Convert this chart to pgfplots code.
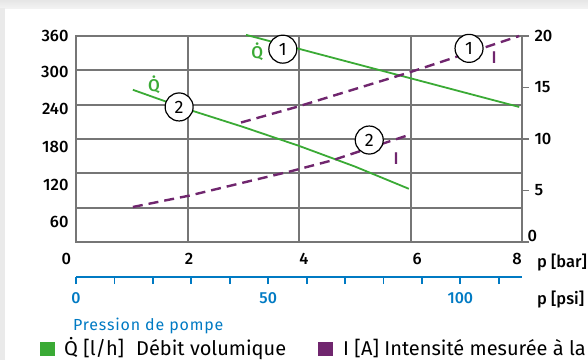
\documentclass[border=0pt]{standalone}
\usepackage{fontspec}
\setmainfont{Fira Sans}
\newfontfamily\medfont{Fira Sans Medium}
\newfontfamily\spacedfont{Fira Sans}[LetterSpace=5]
\usepackage{pgfplots}
\pgfplotsset{compat=1.18}

\definecolor{qgreen}{RGB}{58,170,53}
\definecolor{ipurple}{RGB}{112,38,110}
\definecolor{pblue}{RGB}{0,122,195}
\definecolor{gridgray}{RGB}{118,118,118}
\definecolor{edgegray}{RGB}{234,234,234}

\pgfplotsset{
  festo/.style={
    scale only axis, width=446pt, height=206pt,
    at={(76pt,118pt)}, anchor=south west,
    xmin=0, xmax=8,
    /pgf/number format/assume math mode=true,
    tick label style={font=\medfont\fontsize{16.5}{19}\selectfont},
    clip=false,
  },
}
\tikzset{
  circ/.style={circle, draw=black, fill=white, line width=1.2pt, minimum size=28pt, inner sep=0pt, font=\fontsize{18}{20}\selectfont},
}

\begin{document}
\fontsize{16}{19}\selectfont
\begin{tikzpicture}[x=1pt,y=1pt]
\useasboundingbox (0,0) rectangle (588,360);
% light frame of the source image
\shade[top color=edgegray!120, bottom color=edgegray!60] (0,352) rectangle (588,360);
\fill[edgegray] (0,0) rectangle (5,352);

% flow rate, left scale
\begin{axis}[festo,
  ymin=0, ymax=360,
  xtick={0,2,4,6,8}, xticklabels={},
  ytick={60,120,...,360}, yticklabels={},
  grid=major, major grid style={gridgray, line width=2pt},
  axis line style={gridgray, line width=2pt},
  major tick length=0pt,
  extra x ticks={0,2.03,4.09,6.12,7.91},
  extra x tick labels={\makebox[0pt][r]{0\hspace{5pt}},2,4,6,8},
  extra y ticks={360,297,232.4,166,99.6,35},
  extra y tick labels={360,300,240,180,120,60},
  extra tick style={grid=none, major tick length=0pt},
  xticklabel style={yshift=-6pt},
  yticklabel style={xshift=-2pt},
]
\addplot[qgreen, line width=1.8pt] coordinates {(3.05,362) (7.95,236)};
\addplot[qgreen, line width=1.8pt] coordinates {(1.02,266) (2,232) (3,201) (4,168) (5,132) (5.97,93)};
\node[circ] at (axis cs:3.71,337) {1};
\node[circ] at (axis cs:1.85,236) {2};
\node[qgreen, font=\medfont\fontsize{17}{19}\selectfont] at (axis cs:3.25,333) {\.{Q}};
\node[qgreen, font=\medfont\fontsize{17}{19}\selectfont] at (axis cs:1.40,274) {\.{Q}};
\end{axis}

% current, right scale
\begin{axis}[festo,
  ymin=0, ymax=20, ytick={5,10,...,20},
  axis y line*=right, axis x line=none,
  y axis line style={gridgray, line width=2pt, -},
  tick style={gridgray, line width=1.8pt},
  tick align=outside, major tick length=7pt,
  extra y ticks={0.6}, extra y tick labels={0},
  extra y tick style={major tick length=0pt},
]
\addplot[ipurple, line width=2.4pt, dash pattern=on 10pt off 6pt] coordinates {(2.96,11.6) (3.95,13.1) (6,16.5) (7.95,20.0)};
\addplot[ipurple, line width=2.4pt, dash pattern=on 10pt off 6pt] coordinates {(1.02,3.4) (2.03,4.5) (3.18,6.0) (3.84,6.85) (4.61,7.95) (5.92,10.3)};
\draw[gridgray, line width=1.8pt] (axis cs:8,0) -- ++(7pt,0);
\node[circ] at (axis cs:7.05,18.8) {1};
\node[circ] at (axis cs:5.26,9.9) {2};
\node[ipurple, font=\medfont\fontsize{17}{19}\selectfont] at (axis cs:7.5,17.9) {I};
\node[ipurple, font=\medfont\fontsize{17}{19}\selectfont] at (axis cs:5.74,8.1) {I};
\end{axis}

% pressure in psi
\begin{axis}[
  scale only axis, width=446pt, height=10pt,
  at={(76pt,83pt)}, anchor=south west,
  xmin=0, xmax=116.03, ymin=0, ymax=1,
  axis x line=bottom, axis y line=none,
  x axis line style={pblue, line width=2.2pt, -},
  xtick={0,50,100}, minor xtick={10,20,30,40,60,70,80,90,110},
  tick align=outside, major tick length=7pt, minor tick length=7pt,
  every tick/.style={pblue, line width=1.8pt},
  every minor tick/.style={pblue, line width=1.8pt},
  tick label style={pblue, font=\medfont\fontsize{16}{19}\selectfont},
  xticklabel style={yshift=-3pt},
  /pgf/number format/assume math mode=true,
]
\addplot[draw=none] coordinates {(0,0) (116,0)};
\end{axis}

\node[anchor=base west, inner sep=0pt, font=\medfont\fontsize{16.5}{19}\selectfont] at (537,93) {p [bar]};
\node[anchor=base west, inner sep=0pt, font=\medfont\fontsize{16.5}{19}\selectfont] at (537,56) {p [psi]};
\node[anchor=base west, inner sep=0pt, pblue, font=\spacedfont\fontsize{16}{18}\selectfont] at (73,30) {Pression de pompe};
\fill[qgreen] (40,4) rectangle (55,18);
\node[anchor=base west, inner sep=0pt, font=\fontsize{20}{24}\selectfont] at (64,4.5) {\.{Q} [l/h]\hspace{0.6em}Débit volumique};
\fill[ipurple] (318,4) rectangle (333,18);
\node[anchor=base west, inner sep=0pt, font=\fontsize{20}{24}\selectfont] at (343,4.5) {I [A] Intensité mesurée à la};
\end{tikzpicture}
\end{document}
